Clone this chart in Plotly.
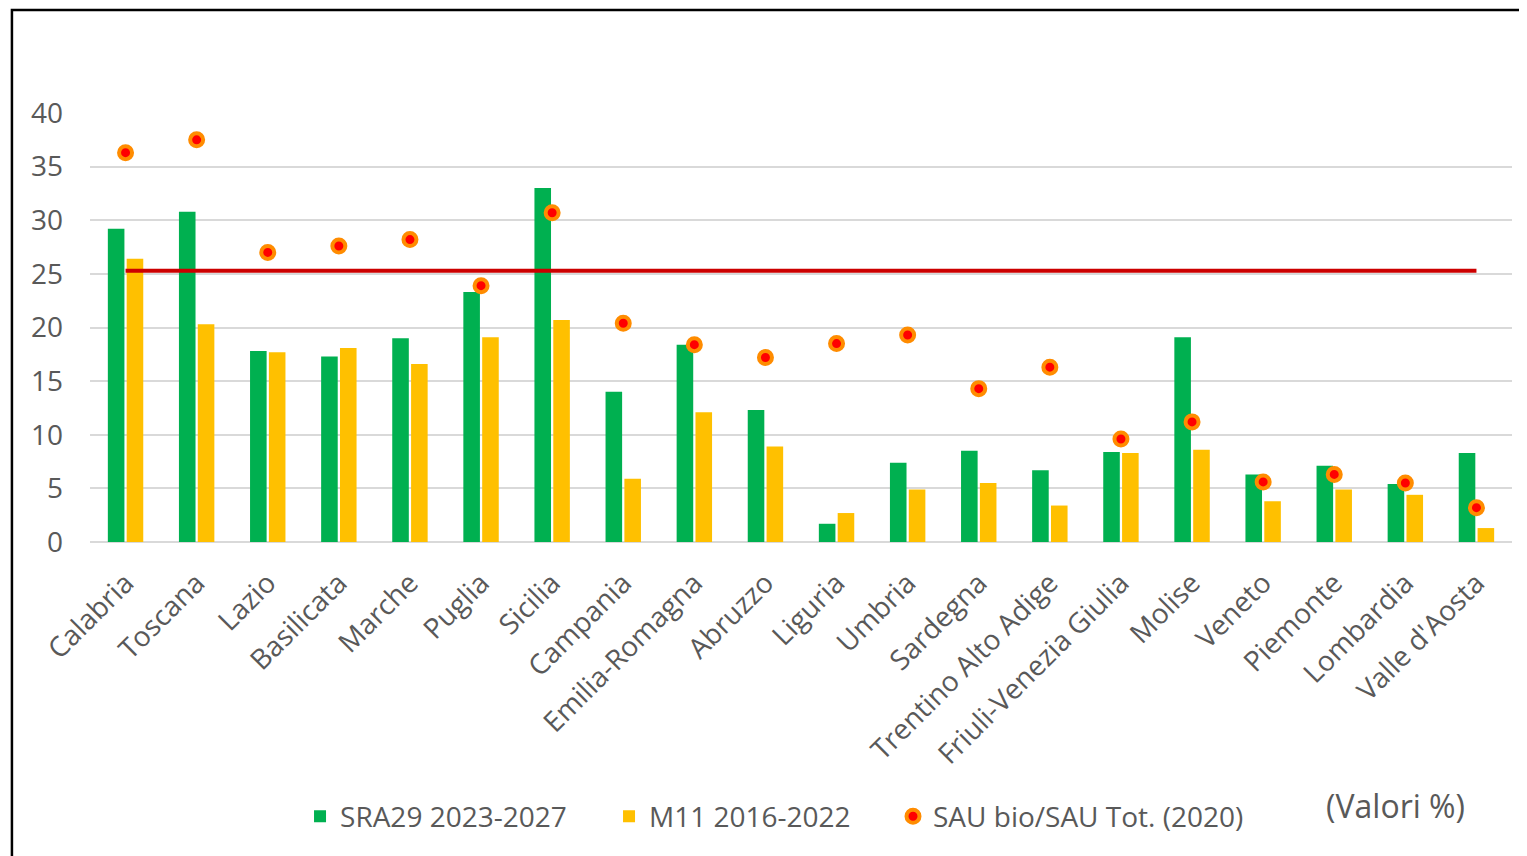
import plotly.graph_objects as go

regions = ["Calabria", "Toscana", "Lazio", "Basilicata", "Marche", "Puglia", "Sicilia",
           "Campania", "Emilia-Romagna", "Abruzzo", "Liguria", "Umbria", "Sardegna",
           "Trentino Alto Adige", "Friuli-Venezia Giulia", "Molise", "Veneto", "Piemonte",
           "Lombardia", "Valle d'Aosta"]
sra29 = [29.2, 30.8, 17.8, 17.3, 19.0, 23.3, 33.0, 14.0, 18.4, 12.3, 1.7, 7.4, 8.5, 6.7,
         8.4, 19.1, 6.3, 7.1, 5.4, 8.3]
m11 = [26.4, 20.3, 17.7, 18.1, 16.6, 19.1, 20.7, 5.9, 12.1, 8.9, 2.7, 4.9, 5.5, 3.4,
       8.3, 8.6, 3.8, 4.9, 4.4, 1.3]
sau_bio = [36.3, 37.5, 27.0, 27.6, 28.2, 23.9, 30.7, 20.4, 18.4, 17.2, 18.5, 19.3, 14.3,
           16.3, 9.6, 11.2, 5.6, 6.3, 5.5, 3.2]
target = 25.3
y_ticks = [0, 5, 10, 15, 20, 25, 30, 35, 40]

FONT = "Open Sans"
GREY = "#595959"

fig = go.Figure()
fig.add_trace(go.Bar(x=regions, y=sra29, name="SRA29 2023-2027", legend="legend",
                     marker=dict(color="#00B050", line=dict(width=0))))
fig.add_trace(go.Bar(x=regions, y=m11, name="M11 2016-2022", legend="legend2",
                     marker=dict(color="#FFC000", line=dict(width=0))))
fig.add_trace(go.Scatter(x=[regions[0], regions[-1]], y=[target, target], mode="lines",
                         line=dict(color="#CC0000", width=4), showlegend=False,
                         hoverinfo="skip"))
fig.add_trace(go.Scatter(x=regions, y=sau_bio, mode="markers", name="SAU bio/SAU Tot. (2020)",
                         legend="legend3",
                         marker=dict(color="#FF0000", size=13,
                                     line=dict(color="#FF8C00", width=4))))

leg_common = dict(orientation="h", y=-0.64, xanchor="left", yanchor="middle",
                  font=dict(family=FONT, size=28, color=GREY), itemwidth=30,
                  bgcolor="rgba(0,0,0,0)")

fig.update_layout(
    width=1527, height=856,
    paper_bgcolor="white", plot_bgcolor="white",
    margin=dict(l=82, r=23, t=105, b=322),
    barmode="group", bargap=0.47, bargroupgap=0.12,
    font=dict(family=FONT, size=28, color=GREY),
    showlegend=True,
    legend=dict(x=0.1477, **leg_common),
    legend2=dict(x=0.3650, **leg_common),
    legend3=dict(x=0.5647, **leg_common),
    xaxis=dict(type="category", tickangle=-45, showgrid=False, showline=False,
               ticks="", ticklabelstandoff=18, tickfont=dict(size=28, color=GREY),
               range=[-0.5, len(regions) - 0.5]),
    yaxis=dict(range=[0, 40], tickvals=y_ticks, showgrid=True, gridcolor="#D9D9D9",
               gridwidth=1.5, zeroline=True, zerolinecolor="#D9D9D9", zerolinewidth=1.5,
               showline=False, ticks="", ticklabelstandoff=26,
               tickfont=dict(size=28, color=GREY)),
    annotations=[dict(text="(Valori %)", xref="paper", yref="paper", x=0.918, y=-0.615,
                      xanchor="center", yanchor="middle", showarrow=False,
                      font=dict(family=FONT, size=32, color=GREY))],
    shapes=[dict(type="rect", xref="paper", yref="paper", x0=-0.0549, y0=-0.9,
                 x1=1.2, y1=1.240, line=dict(color="black", width=2.5),
                 fillcolor="rgba(0,0,0,0)", layer="above")],
)

fig.write_html("out.html")
